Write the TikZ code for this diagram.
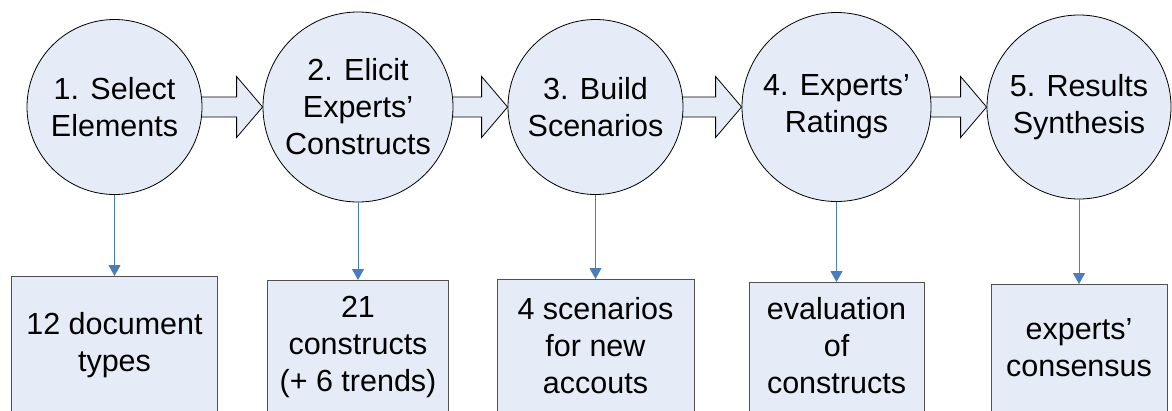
\documentclass[tikz,border=0pt]{standalone}
\usepackage{fontspec}
\setmainfont{Liberation Sans}
\usetikzlibrary{arrows.meta,calc,backgrounds}
\definecolor{fillblue}{RGB}{230,236,247}
\definecolor{lineblue}{RGB}{74,126,187}
\definecolor{boxline}{RGB}{80,80,80}
\begin{document}
\begin{tikzpicture}[x=1pt,y=-1pt,
  every node/.style={font=\fontsize{30.5}{37}\selectfont, align=center},
  stage/.style={circle, draw=black, line width=0.8pt, fill=fillblue, inner sep=0pt},
  outbox/.style={rectangle, draw=boxline, line width=0.9pt, fill=fillblue, anchor=north, inner xsep=0pt, text depth=250pt},
  flow/.style={draw=lineblue, line width=1pt, -{Triangle[width=12pt,length=11pt]}},
  block/.style={draw=black, line width=0.8pt, fill=fillblue, line join=miter}]
\clip (0,0) rectangle (1172,410);
% stages
\node[stage, minimum size=175] (c1) at (114.5,107) {1. Select\\Elements};
\node[stage, minimum size=190] (c2) at (358,107) {2. Elicit\\Experts’\\Constructs};
\node[stage, minimum size=175] (c3) at (595.5,107) {3. Build\\Scenarios};
\node[stage, minimum size=189] (c4) at (836.5,107) {4. Experts’\\Ratings};
\node[stage, minimum size=184] (c5) at (1079,107) {5. Results\\Synthesis};
% outputs
\node[outbox, minimum width=206, inner ysep=36] (b1) at (114.5,276) {12 document\\types};
\node[outbox, minimum width=181, inner ysep=16] (b2) at (358,280) {21\\constructs\\(+ 6 trends)};
\node[outbox, minimum width=197, inner ysep=18] (b3) at (595.5,279) {4 scenarios\\for new\\accouts};
\node[outbox, minimum width=175, inner ysep=15] (b4) at (836.5,282) {evaluation\\of\\constructs};
\node[outbox, minimum width=176, inner ysep=34] (b5) at (1079,284) {experts’\\consensus};
% down arrows
\foreach \i in {1,...,5} {
  \draw[flow] (c\i.south) -- (b\i.north);
}
% block arrows
\begin{scope}[on background layer]
\foreach \a/\b in {c1/c2,c2/c3,c3/c4,c4/c5} {
  \draw[block] ($(\a.east)+(-3,-10)$) -- ($(\b.west)+(-26,-10)$) -- ($(\b.west)+(-26,-30.5)$)
    -- (\b.west) -- ($(\b.west)+(-26,30.5)$) -- ($(\b.west)+(-26,10)$) -- ($(\a.east)+(-3,10)$);
}
\end{scope}
\end{tikzpicture}
\end{document}
